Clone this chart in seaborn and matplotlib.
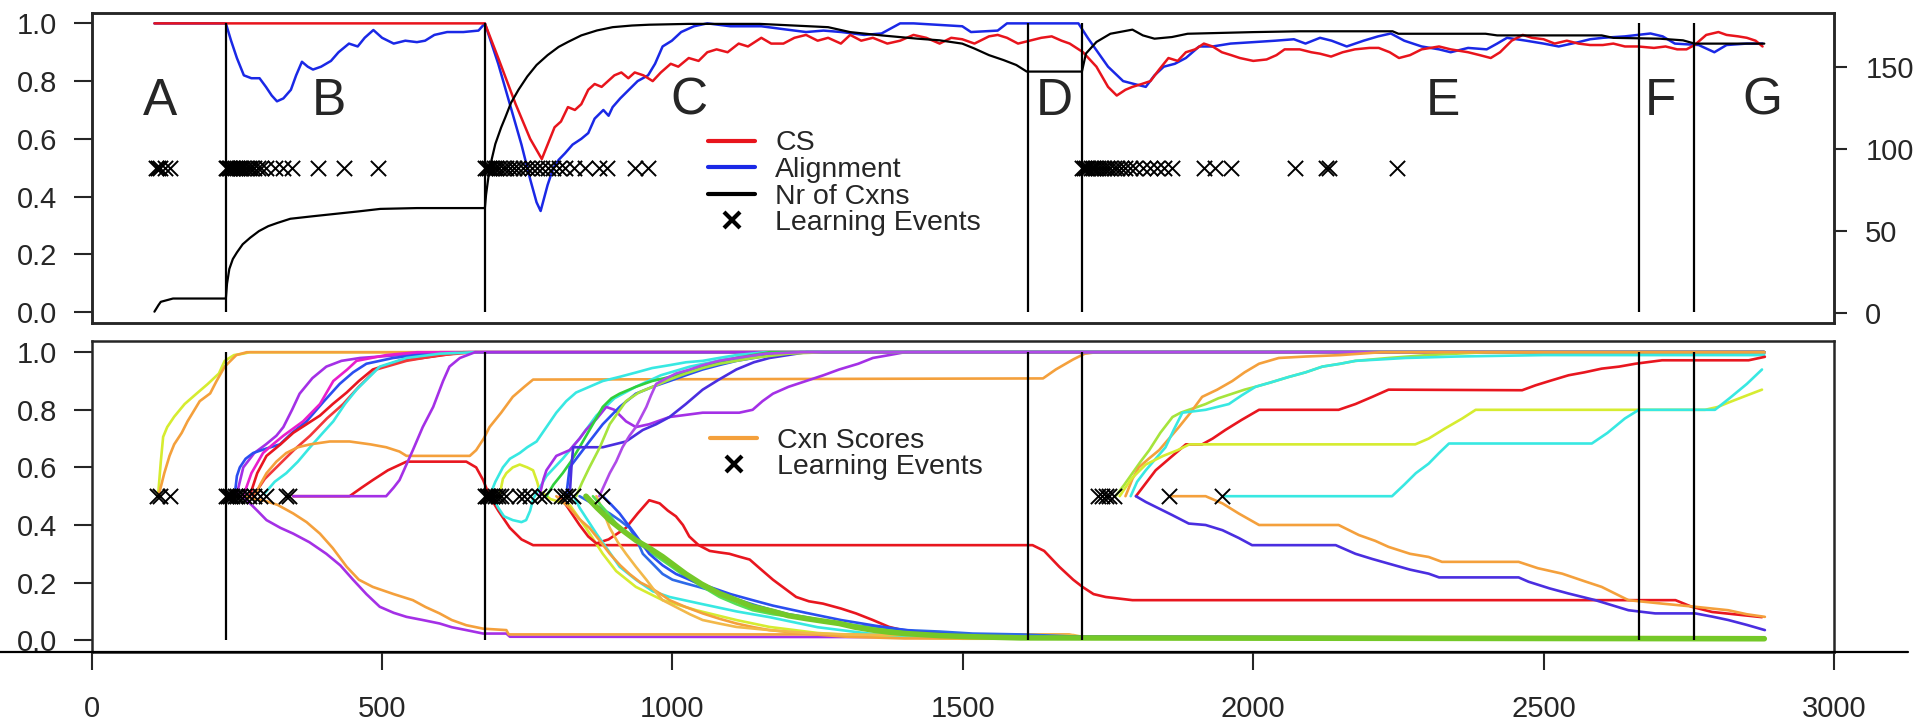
import numpy as np
import pandas as pd
import matplotlib
matplotlib.use("Agg")
import matplotlib.pyplot as plt
from matplotlib.lines import Line2D
from matplotlib.legend_handler import HandlerLine2D
from matplotlib.ticker import FormatStrFormatter
import seaborn as sns

# ---------------- data ----------------
# phase boundaries (time step) and phase letters
boundaries = [231, 677, 1612, 1705, 2665, 2759]
phase_letters = ["A", "B", "C", "D", "E", "F", "G"]
phase_letter_x = [117, 408, 1029, 1657, 2326, 2701, 2877]

# top panel: communicative success, alignment (time, value)
cs = [(108, 1.0), (677, 1.0), (700, 0.88), (730, 0.72), (755, 0.60), (775, 0.53), (785, 0.58), (797, 0.64),
      (808, 0.66), (820, 0.71), (832, 0.70), (843, 0.72), (855, 0.77), (866, 0.79), (878, 0.78), (889, 0.80),
      (900, 0.82), (912, 0.83), (924, 0.81), (935, 0.83), (950, 0.82), (966, 0.80), (980, 0.83), (997, 0.86),
      (1010, 0.85), (1028, 0.88), (1045, 0.87), (1060, 0.90), (1076, 0.91), (1095, 0.90), (1114, 0.93),
      (1130, 0.92), (1153, 0.95), (1170, 0.93), (1191, 0.93), (1210, 0.95), (1230, 0.96), (1250, 0.94),
      (1268, 0.95), (1290, 0.93), (1306, 0.96), (1325, 0.94), (1345, 0.95), (1370, 0.93), (1392, 0.94),
      (1415, 0.96), (1437, 0.95), (1460, 0.93), (1480, 0.95), (1499, 0.945), (1520, 0.93), (1545, 0.955),
      (1560, 0.96), (1576, 0.95), (1595, 0.93), (1615, 0.94), (1635, 0.95), (1653, 0.955), (1670, 0.94),
      (1684, 0.93), (1707, 0.90), (1730, 0.85), (1750, 0.78), (1765, 0.75), (1780, 0.77), (1792, 0.78),
      (1808, 0.79), (1823, 0.80), (1838, 0.84), (1854, 0.88), (1870, 0.87), (1884, 0.90), (1900, 0.91),
      (1915, 0.93), (1930, 0.92), (1946, 0.90), (1962, 0.89), (1977, 0.88), (2000, 0.87), (2023, 0.875),
      (2040, 0.89), (2054, 0.91), (2080, 0.91), (2100, 0.90), (2115, 0.895), (2134, 0.885), (2154, 0.90),
      (2175, 0.91), (2200, 0.915), (2216, 0.915), (2235, 0.90), (2251, 0.88), (2270, 0.89), (2290, 0.91),
      (2320, 0.92), (2340, 0.91), (2370, 0.90), (2390, 0.89), (2409, 0.88), (2425, 0.90), (2445, 0.94),
      (2464, 0.96), (2480, 0.95), (2500, 0.945), (2519, 0.93), (2540, 0.94), (2560, 0.93), (2580, 0.925),
      (2602, 0.925), (2620, 0.93), (2640, 0.92), (2663, 0.92), (2690, 0.915), (2710, 0.92), (2730, 0.91),
      (2746, 0.91), (2760, 0.925), (2780, 0.96), (2801, 0.97), (2815, 0.96), (2835, 0.955), (2850, 0.95),
      (2865, 0.94), (2877, 0.92)]

alignment = [(108, 1.0), (231, 1.0), (240, 0.94), (250, 0.88), (262, 0.82), (275, 0.81), (289, 0.81),
             (300, 0.78), (310, 0.75), (319, 0.73), (330, 0.74), (343, 0.77), (352, 0.82), (362, 0.867),
             (372, 0.85), (381, 0.84), (395, 0.85), (412, 0.87), (425, 0.90), (443, 0.93), (458, 0.92),
             (470, 0.95), (485, 0.977), (500, 0.95), (520, 0.93), (540, 0.94), (560, 0.935), (574, 0.94),
             (590, 0.96), (612, 0.97), (640, 0.97), (666, 0.975), (677, 1.0), (700, 0.86), (720, 0.72),
             (740, 0.58), (755, 0.46), (766, 0.38), (773, 0.35), (785, 0.44), (795, 0.50), (804, 0.527),
             (815, 0.55), (828, 0.58), (843, 0.60), (855, 0.62), (866, 0.67), (881, 0.70), (890, 0.68),
             (897, 0.71), (910, 0.74), (925, 0.77), (940, 0.80), (958, 0.82), (970, 0.86), (983, 0.92),
             (999, 0.94), (1015, 0.97), (1037, 0.99), (1060, 1.0), (1100, 0.99), (1153, 0.99), (1191, 0.98),
             (1230, 0.97), (1260, 0.975), (1291, 0.97), (1330, 0.96), (1360, 0.965), (1392, 1.0), (1415, 1.0),
             (1499, 0.99), (1514, 0.97), (1560, 0.975), (1576, 1.0), (1699, 1.0), (1715, 0.95), (1730, 0.907),
             (1750, 0.85), (1776, 0.80), (1795, 0.79), (1815, 0.78), (1830, 0.82), (1846, 0.85), (1865, 0.86),
             (1884, 0.88), (1907, 0.92), (1930, 0.92), (1961, 0.93), (2000, 0.935), (2038, 0.94), (2070, 0.945),
             (2090, 0.93), (2115, 0.95), (2135, 0.94), (2161, 0.92), (2190, 0.94), (2215, 0.955), (2237, 0.965),
             (2260, 0.94), (2290, 0.92), (2320, 0.91), (2340, 0.90), (2370, 0.915), (2402, 0.91), (2420, 0.93),
             (2437, 0.95), (2470, 0.94), (2500, 0.93), (2526, 0.92), (2560, 0.935), (2580, 0.945), (2602, 0.95),
             (2640, 0.955), (2684, 0.965), (2705, 0.955), (2726, 0.93), (2767, 0.925), (2794, 0.90),
             (2815, 0.925), (2850, 0.93), (2877, 0.93)]

# number of constructions (right axis)
nr_cxns = [(108, 1), (115, 5), (119, 7), (140, 9), (231, 9), (233, 18), (237, 27), (243, 33), (250, 37),
           (260, 42), (273, 46), (288, 50), (304, 53), (320, 55), (342, 57.5), (380, 59), (420, 60.5),
           (460, 62), (497, 63.5), (560, 64), (677, 64), (679, 72), (685, 88), (695, 103), (705, 113),
           (712, 119), (722, 128), (735, 136), (750, 144), (766, 151), (785, 157), (804, 162), (820, 165),
           (843, 169), (870, 172), (897, 174), (930, 175), (960, 175.5), (1028, 176), (1150, 176), (1268, 174),
           (1306, 171), (1360, 169), (1422, 167), (1460, 166), (1499, 164), (1520, 161), (1545, 157),
           (1570, 154), (1592, 151), (1610, 147), (1705, 147), (1712, 158), (1730, 165), (1754, 170),
           (1792, 172.5), (1810, 169), (1830, 167), (1860, 168), (1887, 170), (2000, 171), (2080, 171.5),
           (2240, 171.5), (2250, 170), (2400, 170), (2420, 169), (2600, 169), (2620, 167.5), (2700, 167),
           (2740, 166), (2760, 164), (2880, 164)]

top_events = [110, 114, 118, 127, 135,
              231, 233, 236, 238, 241, 244, 247, 250, 253, 257, 261, 265, 270, 275, 280, 286, 292, 300,
              315, 330, 345, 389, 435, 493,
              677, 680, 684, 688, 692, 697, 702, 708, 714, 720, 727, 734, 742, 750, 758, 766, 775, 785,
              795, 805, 815, 830, 850, 874, 888, 935, 958,
              1705, 1708, 1712, 1716, 1720, 1724, 1728, 1733, 1738, 1743, 1748, 1754, 1760, 1766, 1772,
              1779, 1787, 1797, 1810, 1822, 1835, 1847, 1860, 1915, 1935, 1962, 2072, 2125, 2130, 2247]

# bottom panel: construction scores (time, score), one list per construction
a_yellow = [(113, 0.5), (115, 0.52), (119, 0.62), (123, 0.706), (130, 0.74), (142, 0.776), (160, 0.82),
            (181, 0.857), (200, 0.89), (219, 0.926), (229, 0.97), (245, 0.99), (261, 0.995), (272, 1.0),
            (2880, 1.0)]
a_orange = [(115, 0.5), (125, 0.58), (134, 0.64), (142, 0.68), (155, 0.72), (165, 0.76), (186, 0.83),
            (204, 0.857), (215, 0.90), (229, 0.95), (249, 0.99), (267, 1.0), (2880, 1.0)]
b_purple_up = [(249, 0.5), (255, 0.55), (261, 0.60), (280, 0.65), (300, 0.68), (318, 0.71), (330, 0.74),
               (345, 0.80), (358, 0.856), (380, 0.91), (404, 0.95), (430, 0.97), (462, 0.98), (530, 0.99),
               (600, 1.0), (2880, 1.0)]
b_blue_up = [(246, 0.5), (250, 0.57), (255, 0.60), (265, 0.63), (278, 0.65), (300, 0.665), (324, 0.68),
             (345, 0.72), (370, 0.76), (400, 0.83), (427, 0.89), (450, 0.93), (473, 0.96), (519, 0.98),
             (580, 0.995), (650, 1.0), (2880, 1.0)]
b_magenta_up = [(261, 0.5), (275, 0.58), (295, 0.65), (312, 0.68), (330, 0.71), (364, 0.76), (393, 0.82),
                (416, 0.90), (440, 0.94), (456, 0.97), (507, 0.99), (560, 1.0), (2880, 1.0)]
b_red_up = [(272, 0.5), (285, 0.58), (301, 0.64), (325, 0.68), (347, 0.72), (370, 0.75), (393, 0.78),
            (415, 0.82), (439, 0.86), (460, 0.90), (484, 0.94), (530, 0.97), (588, 0.985), (640, 1.0),
            (2880, 1.0)]
b_red2_up = [(278, 0.5), (298, 0.56), (318, 0.60), (348, 0.66), (376, 0.71), (405, 0.77), (433, 0.82),
             (460, 0.88), (490, 0.94), (542, 0.97), (600, 0.99), (660, 1.0), (2880, 1.0)]
b_cyan_up = [(298, 0.51), (315, 0.55), (335, 0.58), (355, 0.62), (376, 0.67), (398, 0.72), (416, 0.76),
             (436, 0.82), (456, 0.87), (476, 0.91), (496, 0.95), (542, 0.98), (600, 0.995), (660, 1.0),
             (2880, 1.0)]
b_orange_hump = [(281, 0.5), (290, 0.54), (301, 0.58), (318, 0.62), (335, 0.65), (355, 0.67), (376, 0.68),
                 (410, 0.69), (444, 0.69), (480, 0.68), (507, 0.67), (530, 0.655), (542, 0.64), (588, 0.64),
                 (651, 0.64), (662, 0.66), (675, 0.70), (685, 0.74), (705, 0.79), (725, 0.845), (745, 0.88),
                 (760, 0.905), (1638, 0.909), (1660, 0.94), (1690, 0.975), (1710, 0.995), (1730, 1.0),
                 (2880, 1.0)]
b_red_slow = [(347, 0.5), (444, 0.5), (465, 0.53), (484, 0.556), (510, 0.59), (542, 0.62), (645, 0.62),
              (662, 0.60), (674, 0.556), (685, 0.50), (700, 0.45), (720, 0.39), (740, 0.35), (760, 0.33),
              (1620, 0.33), (1640, 0.31), (1666, 0.255), (1690, 0.21), (1706, 0.185), (1725, 0.16),
              (1746, 0.15), (1792, 0.139), (2727, 0.139), (2755, 0.116), (2790, 0.098), (2876, 0.08)]
b_purple_flat = [(347, 0.5), (507, 0.5), (520, 0.53), (530, 0.556), (553, 0.66), (570, 0.74), (588, 0.81),
                 (605, 0.90), (616, 0.95), (634, 0.98), (660, 1.0), (2880, 1.0)]
b_purple_down = [(255, 0.5), (267, 0.486), (285, 0.45), (301, 0.417), (325, 0.39), (347, 0.37), (375, 0.34),
                 (404, 0.30), (428, 0.26), (450, 0.21), (473, 0.16), (496, 0.116), (520, 0.095), (542, 0.081),
                 (570, 0.07), (599, 0.058), (620, 0.045), (645, 0.035), (674, 0.023), (714, 0.023),
                 (720, 0.012), (2880, 0.008)]
b_orange_down = [(262, 0.5), (280, 0.49), (295, 0.486), (320, 0.47), (347, 0.44), (370, 0.41), (393, 0.37),
                 (415, 0.32), (439, 0.255), (460, 0.21), (484, 0.185), (520, 0.16), (553, 0.139), (575, 0.115),
                 (599, 0.093), (620, 0.07), (645, 0.052), (674, 0.04), (714, 0.035), (718, 0.02), (1683, 0.02),
                 (1700, 0.01), (2880, 0.008)]
c_cyan_up = [(685, 0.5), (695, 0.55), (708, 0.60), (720, 0.63), (737, 0.65), (750, 0.67), (766, 0.69),
             (783, 0.74), (800, 0.79), (817, 0.83), (834, 0.86), (857, 0.88), (880, 0.90), (910, 0.915),
             (938, 0.93), (965, 0.945), (995, 0.955), (1023, 0.965), (1052, 0.97), (1080, 0.98), (1110, 0.99),
             (1160, 1.0), (2880, 1.0)]
c_yellow_loop = [(702, 0.5), (708, 0.56), (714, 0.58), (725, 0.60), (737, 0.61), (750, 0.60), (760, 0.59),
                 (767, 0.55), (771, 0.52), (790, 0.49), (823, 0.47), (851, 0.39), (880, 0.30), (903, 0.24),
                 (937, 0.185), (983, 0.139), (1041, 0.104), (1110, 0.07), (1167, 0.046), (1250, 0.025),
                 (1350, 0.012), (1500, 0.005), (2880, 0.005)]
c_cyan_loop = [(690, 0.5), (700, 0.46), (710, 0.43), (725, 0.417), (740, 0.41), (748, 0.417), (755, 0.45),
               (760, 0.49), (783, 0.57), (811, 0.63), (840, 0.70), (869, 0.78), (900, 0.84), (937, 0.88),
               (980, 0.92), (1030, 0.95), (1090, 0.975), (1150, 0.99), (1220, 1.0), (2880, 1.0)]
c_purple_up = [(771, 0.5), (778, 0.56), (783, 0.59), (800, 0.64), (823, 0.66), (840, 0.70), (851, 0.73),
               (870, 0.77), (886, 0.81), (900, 0.80), (920, 0.76), (937, 0.74), (960, 0.75), (995, 0.775),
               (1052, 0.79), (1115, 0.79), (1138, 0.80), (1155, 0.83), (1173, 0.856), (1200, 0.88),
               (1230, 0.90), (1260, 0.92), (1287, 0.94), (1320, 0.96), (1345, 0.98), (1373, 0.99),
               (1400, 1.0), (2880, 1.0)]
c_green_up = [(783, 0.5), (795, 0.54), (811, 0.58), (825, 0.62), (840, 0.67), (860, 0.74), (880, 0.81),
              (895, 0.84), (909, 0.856), (937, 0.88), (965, 0.90), (995, 0.914), (1023, 0.93), (1052, 0.95),
              (1080, 0.965), (1110, 0.98), (1167, 1.0), (2880, 1.0)]
c_blue_up = [(817, 0.5), (823, 0.60), (840, 0.645), (857, 0.69), (880, 0.75), (909, 0.81), (937, 0.856),
             (966, 0.88), (995, 0.90), (1023, 0.92), (1052, 0.94), (1080, 0.955), (1110, 0.97), (1140, 0.98),
             (1167, 0.99), (1220, 1.0), (2880, 1.0)]
c_violet_up = [(823, 0.5), (826, 0.60), (829, 0.67), (880, 0.67), (920, 0.69), (949, 0.73), (972, 0.75),
               (995, 0.775), (1023, 0.82), (1052, 0.87), (1080, 0.905), (1110, 0.94), (1140, 0.965),
               (1167, 0.98), (1230, 1.0), (2880, 1.0)]
c_lime_up = [(834, 0.5), (845, 0.55), (857, 0.60), (875, 0.67), (892, 0.75), (906, 0.79), (920, 0.83),
             (942, 0.86), (966, 0.88), (995, 0.905), (1023, 0.926), (1052, 0.945), (1081, 0.96), (1110, 0.97),
             (1138, 0.98), (1200, 0.995), (1260, 1.0), (2880, 1.0)]
c_purple2_up = [(874, 0.5), (883, 0.54), (892, 0.58), (903, 0.62), (914, 0.67), (926, 0.71), (937, 0.74),
                (946, 0.775), (955, 0.81), (963, 0.85), (972, 0.89), (990, 0.91), (1006, 0.926), (1030, 0.94),
                (1052, 0.955), (1080, 0.97), (1110, 0.98), (1160, 0.995), (1220, 1.0), (2880, 1.0)]
c_red_bump = [(806, 0.5), (820, 0.46), (840, 0.40), (855, 0.36), (869, 0.336), (890, 0.35), (905, 0.37),
              (920, 0.39), (940, 0.44), (960, 0.486), (970, 0.48), (978, 0.475), (992, 0.45), (1006, 0.43),
              (1018, 0.40), (1029, 0.36), (1045, 0.33), (1064, 0.31), (1080, 0.305), (1098, 0.30),
              (1115, 0.29), (1133, 0.28), (1150, 0.25), (1173, 0.21), (1193, 0.18), (1213, 0.15),
              (1235, 0.135), (1259, 0.127), (1290, 0.11), (1316, 0.093), (1345, 0.07), (1373, 0.046),
              (1400, 0.033), (1431, 0.023), (1470, 0.016), (1517, 0.012), (1600, 0.008), (2880, 0.005)]
c_cyan_down = [(830, 0.5), (840, 0.46), (869, 0.37), (890, 0.31), (909, 0.255), (937, 0.21), (966, 0.17),
               (995, 0.15), (1052, 0.125), (1110, 0.10), (1167, 0.08), (1250, 0.045), (1350, 0.02),
               (1450, 0.01), (2880, 0.005)]
c_orange_down = [(800, 0.5), (823, 0.46), (840, 0.42), (857, 0.39), (875, 0.345), (892, 0.30), (910, 0.26),
                 (926, 0.23), (945, 0.20), (960, 0.185), (980, 0.16), (995, 0.139), (1023, 0.115),
                 (1052, 0.093), (1080, 0.075), (1110, 0.058), (1140, 0.045), (1167, 0.035), (1230, 0.022),
                 (1300, 0.012), (1400, 0.006), (2880, 0.005)]
c_orange2_down = [(869, 0.5), (880, 0.45), (892, 0.39), (906, 0.34), (920, 0.30), (937, 0.255), (955, 0.21),
                  (970, 0.17), (983, 0.139), (1006, 0.115), (1030, 0.09), (1052, 0.07), (1080, 0.058),
                  (1110, 0.046), (1167, 0.035), (1230, 0.025), (1300, 0.02), (1400, 0.018), (1690, 0.018),
                  (1705, 0.012), (2880, 0.01)]
c_blue_down = [(840, 0.5), (866, 0.47), (892, 0.44), (910, 0.415), (926, 0.39), (938, 0.35), (949, 0.30),
               (966, 0.265), (983, 0.23), (1000, 0.21), (1023, 0.197), (1045, 0.185), (1064, 0.174),
               (1090, 0.155), (1115, 0.139), (1145, 0.12), (1173, 0.104), (1200, 0.09), (1230, 0.08),
               (1260, 0.068), (1287, 0.058), (1315, 0.05), (1345, 0.046), (1373, 0.04), (1402, 0.035),
               (1460, 0.03), (1517, 0.023), (1600, 0.02), (1700, 0.012), (2880, 0.008)]
c_green2_down = [(863, 0.5), (885, 0.45), (909, 0.39), (937, 0.345), (966, 0.30), (995, 0.26), (1023, 0.22),
                 (1052, 0.185), (1081, 0.15), (1110, 0.125), (1138, 0.104), (1173, 0.09), (1230, 0.075),
                 (1290, 0.06), (1350, 0.04), (1420, 0.025), (1500, 0.015), (1600, 0.01), (2880, 0.005)]
c_blue2_down = [(880, 0.5), (895, 0.47), (909, 0.44), (935, 0.37), (960, 0.30), (983, 0.26), (1006, 0.23),
                (1035, 0.205), (1064, 0.185), (1100, 0.16), (1138, 0.139), (1173, 0.12), (1230, 0.095),
                (1290, 0.07), (1350, 0.05), (1420, 0.03), (1500, 0.018), (1600, 0.012), (2880, 0.008)]
c_green_down = [(851, 0.5), (870, 0.46), (892, 0.417), (915, 0.38), (937, 0.347), (960, 0.32), (983, 0.29),
                (1003, 0.26), (1023, 0.23), (1050, 0.195), (1081, 0.162), (1115, 0.135), (1138, 0.116),
                (1173, 0.10), (1200, 0.085), (1230, 0.075), (1260, 0.066), (1287, 0.058), (1315, 0.045),
                (1345, 0.035), (1373, 0.028), (1402, 0.023), (1460, 0.016), (1517, 0.012), (1600, 0.008),
                (2880, 0.005)]
e_lime_up = [(1763, 0.5), (1778, 0.54), (1792, 0.58), (1806, 0.62), (1821, 0.66), (1840, 0.72), (1861, 0.775),
             (1875, 0.79), (1889, 0.80), (1904, 0.81), (1918, 0.82), (1940, 0.84), (1964, 0.856), (1985, 0.87),
             (2004, 0.88), (2030, 0.895), (2061, 0.914), (2090, 0.93), (2119, 0.95), (2150, 0.96), (2176, 0.97),
             (2205, 0.975), (2233, 0.98), (2300, 0.99), (2400, 1.0), (2880, 1.0)]
e_orange_up = [(1780, 0.5), (1792, 0.56), (1803, 0.60), (1820, 0.63), (1838, 0.66), (1855, 0.70), (1872, 0.74),
               (1892, 0.79), (1912, 0.845), (1938, 0.87), (1964, 0.90), (1985, 0.93), (2010, 0.96),
               (2044, 0.98), (2090, 0.985), (2150, 0.99), (2220, 1.0), (2880, 1.0)]
e_cyan_up = [(1789, 0.5), (1800, 0.55), (1815, 0.59), (1832, 0.63), (1849, 0.67), (1863, 0.73), (1878, 0.79),
             (1898, 0.795), (1918, 0.80), (1938, 0.81), (1958, 0.82), (1980, 0.85), (2004, 0.88), (2030, 0.895),
             (2061, 0.914), (2090, 0.93), (2119, 0.95), (2150, 0.96), (2176, 0.97), (2220, 0.975), (2262, 0.98),
             (2350, 0.985), (2500, 0.99), (2880, 0.99)]
e_red_up = [(1798, 0.5), (1815, 0.545), (1832, 0.59), (1858, 0.635), (1884, 0.68), (1912, 0.68), (1930, 0.70),
            (1952, 0.73), (1980, 0.765), (2010, 0.80), (2147, 0.80), (2176, 0.82), (2205, 0.845), (2233, 0.87),
            (2463, 0.868), (2486, 0.885), (2510, 0.90), (2543, 0.92), (2570, 0.93), (2600, 0.943),
            (2630, 0.95), (2658, 0.96), (2704, 0.972), (2853, 0.972), (2881, 0.984)]
e_yellow_flat = [(1770, 0.5), (1790, 0.56), (1815, 0.61), (1845, 0.64), (1870, 0.66), (1890, 0.68),
                 (2279, 0.68), (2302, 0.70), (2330, 0.735), (2360, 0.77), (2383, 0.80), (2778, 0.80),
                 (2800, 0.81), (2818, 0.825), (2850, 0.85), (2876, 0.87)]
e_cyan_flat = [(1947, 0.5), (2239, 0.5), (2260, 0.54), (2280, 0.58), (2302, 0.613), (2320, 0.65),
               (2337, 0.683), (2583, 0.683), (2610, 0.72), (2640, 0.77), (2664, 0.80), (2795, 0.80),
               (2820, 0.84), (2850, 0.89), (2876, 0.94)]
e_orange_down = [(1855, 0.5), (1918, 0.5), (1947, 0.475), (1975, 0.44), (2010, 0.40), (2147, 0.40),
                 (2182, 0.365), (2210, 0.345), (2233, 0.324), (2270, 0.30), (2302, 0.289), (2325, 0.272),
                 (2457, 0.272), (2490, 0.25), (2532, 0.231), (2570, 0.205), (2600, 0.185), (2625, 0.16),
                 (2646, 0.139), (2704, 0.127), (2761, 0.116), (2818, 0.104), (2850, 0.09), (2881, 0.081)]
e_violet_down = [(1798, 0.5), (1815, 0.48), (1832, 0.463), (1860, 0.435), (1889, 0.405), (1918, 0.40),
                 (1947, 0.382), (1975, 0.355), (1998, 0.33), (2142, 0.33), (2176, 0.30), (2205, 0.282),
                 (2233, 0.266), (2270, 0.245), (2302, 0.231), (2320, 0.218), (2457, 0.218), (2474, 0.203),
                 (2510, 0.18), (2543, 0.162), (2589, 0.139), (2620, 0.12), (2646, 0.104), (2692, 0.093),
                 (2761, 0.093), (2790, 0.082), (2818, 0.07), (2850, 0.053), (2881, 0.035)]

bottom_events = [113, 118, 135,
                 231, 234, 238, 242, 246, 250, 255, 262, 270, 280, 290, 300, 335, 340,
                 677, 680, 683, 686, 690, 695, 700, 705, 713, 735, 745, 755, 770, 778, 808, 815, 820, 828, 878,
                 1733, 1740, 1747, 1752, 1760, 1855, 1947]

# colours (R rainbow-like)
RED, ORANGE, YELLOW, LIME = "#e8161f", "#f4a03c", "#d6ec30", "#a6e43c"
GREEN, CYAN, BLUE, VIOLET = "#30d03c", "#38e8e2", "#2a4ef0", "#4a2ee0"
PURPLE, MAGENTA = "#a430e6", "#e81ecc"

cxn_lines = {
    "a_yellow": (a_yellow, YELLOW), "a_orange": (a_orange, ORANGE),
    "b_purple_up": (b_purple_up, PURPLE), "b_blue_up": (b_blue_up, BLUE),
    "b_magenta_up": (b_magenta_up, MAGENTA), "b_red_up": (b_red_up, RED),
    "b_red2_up": (b_red2_up, "#f2383a"), "b_cyan_up": (b_cyan_up, CYAN),
    "b_orange_hump": (b_orange_hump, ORANGE), "b_red_slow": (b_red_slow, RED),
    "b_purple_flat": (b_purple_flat, PURPLE), "b_purple_down": (b_purple_down, PURPLE),
    "b_orange_down": (b_orange_down, ORANGE),
    "c_cyan_up": (c_cyan_up, CYAN), "c_yellow_loop": (c_yellow_loop, YELLOW),
    "c_cyan_loop": (c_cyan_loop, CYAN), "c_purple_up": (c_purple_up, PURPLE),
    "c_green_up": (c_green_up, GREEN), "c_blue_up": (c_blue_up, BLUE),
    "c_violet_up": (c_violet_up, VIOLET), "c_lime_up": (c_lime_up, LIME),
    "c_purple2_up": (c_purple2_up, "#b04ae8"), "c_red_bump": (c_red_bump, RED),
    "c_cyan_down": (c_cyan_down, CYAN), "c_orange_down": (c_orange_down, ORANGE),
    "c_orange2_down": (c_orange2_down, "#f2b84a"), "c_blue_down": (c_blue_down, "#2e6ae8"),
    "c_green2_down": (c_green2_down, "#55e055"), "c_blue2_down": (c_blue2_down, BLUE),
    "c_green_down": (c_green_down, "#74c828"),
    "e_lime_up": (e_lime_up, LIME), "e_orange_up": (e_orange_up, ORANGE),
    "e_cyan_up": (e_cyan_up, CYAN), "e_red_up": (e_red_up, RED),
    "e_yellow_flat": (e_yellow_flat, YELLOW), "e_cyan_flat": (e_cyan_flat, CYAN),
    "e_orange_down": (e_orange_down, ORANGE), "e_violet_down": (e_violet_down, VIOLET),
}
thick_lines = {"c_green_down": 4.0}


class RightCrossHandler(HandlerLine2D):
    """Legend key with the cross at the right end of the key slot (as in R's legend)."""

    def get_xdata(self, legend, xdescent, ydescent, width, height, fontsize):
        xdata = np.array([-xdescent, -xdescent + width])
        xdata_marker = np.array([-xdescent + width - 0.15 * fontsize])
        return xdata, xdata_marker


# ---------------- plot ----------------
sns.set_theme(style="ticks")
plt.rcParams["font.family"] = ["Liberation Sans", "DejaVu Sans"]
plt.rcParams["axes.linewidth"] = 1.8

W, H = 1927, 722
fig = plt.figure(figsize=(W / 100, H / 100), dpi=100, facecolor="white")
left, right = 91.7 / W, 1834 / W
ax1 = fig.add_axes([left, 1 - 322.7 / H, right - left, 310 / H])
ax2 = fig.add_axes([left, 1 - 651.7 / H, right - left, 311 / H])

# --- top panel
cs_df = pd.DataFrame(cs, columns=["t", "v"])
al_df = pd.DataFrame(alignment, columns=["t", "v"])
nr_df = pd.DataFrame(nr_cxns, columns=["t", "n"])

sns.lineplot(data=al_df, x="t", y="v", color="#1a28e6", lw=1.8, sort=False, estimator=None, ax=ax1)
sns.lineplot(data=cs_df, x="t", y="v", color="#e8141c", lw=1.8, sort=False, estimator=None, ax=ax1)
ax1.vlines(boundaries, 0, 1, color="black", lw=1.6)
sns.scatterplot(x=top_events, y=[0.5] * len(top_events), marker="x", color="black", s=120,
                linewidth=1.4, ax=ax1, zorder=5)
for letter, lx in zip(phase_letters, phase_letter_x):
    ax1.text(lx, 0.683, letter, fontsize=37, ha="center", va="baseline")

ax1.set_xlim(0, 3000)
ax1.set_ylim(-0.037, 1.037)
ax1.set_xlabel("")
ax1.set_ylabel("")
ax1.set_yticks([0, 0.2, 0.4, 0.6, 0.8, 1.0])
ax1.yaxis.set_major_formatter(FormatStrFormatter("%.1f"))
ax1.tick_params(axis="x", bottom=False, labelbottom=False)
ax1.tick_params(axis="y", direction="out", length=13, width=1.5, labelsize=21, pad=12)

ax1r = ax1.twinx()
sns.lineplot(data=nr_df, x="t", y="n", color="black", lw=1.6, sort=False, estimator=None, ax=ax1r)
ax1r.set_ylim(-5.7, 182.8)
ax1r.set_yticks([0, 50, 100, 150])
ax1r.set_ylabel("")
ax1r.tick_params(axis="y", direction="out", length=9.5, width=1.5, labelsize=21, pad=13)
for sp in ax1r.spines.values():
    sp.set_linewidth(1.8)

event_key = Line2D([], [], color="black", lw=0, marker="x", ms=11, mew=3)
top_handles = [Line2D([], [], color="#e8141c", lw=3),
               Line2D([], [], color="#1a28e6", lw=3),
               Line2D([], [], color="black", lw=3),
               event_key]
ax1r.legend(top_handles, ["CS", "Alignment", "Nr of Cxns", "Learning Events"],
            handler_map={event_key: RightCrossHandler()},
            loc="upper left", bbox_to_anchor=(0.354, 0.62), frameon=False, fontsize=20.5,
            handlelength=1.65, handletextpad=0.7, labelspacing=0.02, borderpad=0, borderaxespad=0)

# --- bottom panel
rows = []
for name, (pts, _) in cxn_lines.items():
    for t, v in pts:
        rows.append((name, t, v))
cxn_df = pd.DataFrame(rows, columns=["cxn", "t", "score"])
palette = {name: col for name, (_, col) in cxn_lines.items()}
widths = {name: thick_lines.get(name, 1.9) for name in cxn_lines}

sns.lineplot(data=cxn_df, x="t", y="score", hue="cxn", hue_order=list(cxn_lines), palette=palette,
             size="cxn", sizes=widths, size_order=list(cxn_lines),
             sort=False, estimator=None, legend=False, ax=ax2)
ax2.vlines(boundaries, 0, 1, color="black", lw=1.6)
sns.scatterplot(x=bottom_events, y=[0.5] * len(bottom_events), marker="x", color="black", s=120,
                linewidth=1.4, ax=ax2, zorder=5)

ax2.set_xlim(0, 3000)
ax2.set_ylim(-0.04, 1.04)
ax2.set_xlabel("")
ax2.set_ylabel("")
ax2.set_xticks([0, 500, 1000, 1500, 2000, 2500, 3000])
ax2.set_yticks([0, 0.2, 0.4, 0.6, 0.8, 1.0])
ax2.yaxis.set_major_formatter(FormatStrFormatter("%.1f"))
ax2.tick_params(axis="y", direction="out", length=13, width=1.5, labelsize=21, pad=12)
ax2.tick_params(axis="x", direction="out", length=13, width=1.5, labelsize=21, pad=18)

bottom_key = Line2D([], [], color="black", lw=0, marker="x", ms=11, mew=3)
ax2.legend([Line2D([], [], color=ORANGE, lw=3), bottom_key], ["Cxn Scores", "Learning Events"],
           handler_map={bottom_key: RightCrossHandler()},
           loc="upper left", bbox_to_anchor=(0.355, 0.72), frameon=False, fontsize=20.5,
           handlelength=1.65, handletextpad=0.7, labelspacing=0.02, borderpad=0, borderaxespad=0)

# long axis line under the bottom panel
fig.add_artist(Line2D([0.0, 1908 / W], [1 - 651.7 / H] * 2, transform=fig.transFigure,
                      color="black", lw=1.6))

fig.savefig("out.png", dpi=100, facecolor="white")
